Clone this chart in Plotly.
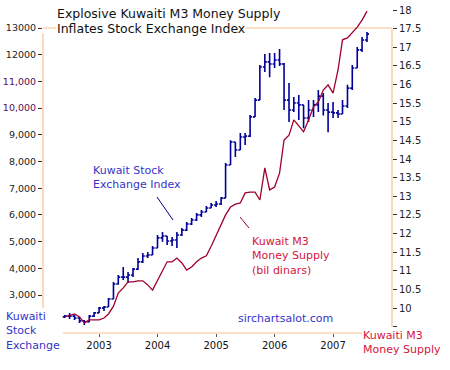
import plotly.graph_objects as go
import pandas as pd

# ---------------- data ----------------
months = pd.date_range("2002-06-01", periods=63, freq="MS")

kse_open = [2180, 2210, 2210, 2140, 2030, 1990, 2210, 2330, 2510, 2550,
            2850, 3410, 3670, 3670, 3750, 3970, 4240, 4460, 4500, 4760,
            5140, 5210, 5020, 5060, 5250, 5430, 5660, 5810, 6000, 6110,
            6260, 6370, 6410, 6630, 7870, 8730, 8430, 8920, 8950, 9670,
            10300, 11540, 11730, 11650, 11800, 11650, 10300, 9930, 10190, 10120,
            9630, 9930, 10120, 10450, 9930, 9850, 9820, 9780, 10080, 10750,
            11500, 12180, 12550]
kse_high = [2250, 2330, 2250, 2180, 2060, 2250, 2360, 2550, 2590, 2890,
            3490, 3750, 4050, 3860, 4010, 4390, 4570, 4610, 4840, 5250,
            5360, 5210, 5170, 5360, 5510, 5730, 5880, 6070, 6180, 6330,
            6450, 6520, 6670, 7940, 8800, 8730, 9070, 9070, 9740, 10380,
            11610, 12030, 12060, 12060, 12210, 11690, 10940, 10420, 10490, 10120,
            10300, 10300, 10680, 10570, 10190, 10230, 9930, 10300, 10870, 11610,
            12290, 12660, 12850]
kse_low = [2140, 2100, 2060, 1950, 1880, 1990, 2180, 2330, 2400, 2550,
           2850, 3380, 3560, 3450, 3670, 3940, 4200, 4390, 4500, 4760,
           4990, 4870, 4840, 4760, 5210, 5400, 5620, 5770, 5920, 6110,
           6260, 6300, 6370, 6630, 7870, 8170, 8430, 8620, 8920, 9670,
           10300, 11350, 11160, 11500, 11580, 9930, 9480, 9850, 9550, 9250,
           9480, 9670, 9850, 9720, 9100, 9630, 9630, 9780, 10000, 10680,
           11500, 12100, 12480]
kse_close = [2210, 2210, 2140, 2030, 1990, 2210, 2330, 2510, 2550, 2850,
             3410, 3670, 3670, 3750, 3970, 4240, 4460, 4500, 4760, 5140,
             5210, 5020, 5060, 5250, 5430, 5660, 5810, 6000, 6110, 6260,
             6370, 6410, 6630, 7870, 8730, 8430, 8920, 8950, 9670, 10300,
             11540, 11730, 11650, 11800, 11650, 10300, 9930, 10190, 10120, 9630,
             9930, 10120, 10450, 9930, 9850, 9820, 9780, 10080, 10750, 11500,
             12180, 12550, 12770]

m3_supply = [9.76, 9.79, 9.84, 9.76, 9.60, 9.68, 9.68, 9.68, 9.73, 9.84,
             10.05, 10.40, 10.54, 10.70, 10.70, 10.73, 10.73, 10.62, 10.48, 10.73,
             11.02, 11.24, 11.24, 11.34, 11.21, 11.02, 11.10, 11.24, 11.34, 11.40,
             11.66, 11.96, 12.23, 12.50, 12.71, 12.79, 12.82, 13.09, 13.11, 13.11,
             12.90, 13.76, 13.17, 13.25, 13.62, 14.51, 14.64, 15.05, 14.89, 14.73,
             15.05, 15.40, 15.53, 15.85, 15.99, 15.77, 16.39, 17.20, 17.25, 17.38,
             17.54, 17.73, 17.97]

left_tick_vals = [3000, 4000, 5000, 6000, 7000, 8000, 9000, 10000, 11000, 12000, 13000]
left_tick_text = ["3,000", "4,000", "5,000", "6,000", "7,000", "8,000", "9,000",
                  "<span style='color:#5a0a5a'>10,000</span>",
                  "<span style='color:#5a0a5a'>11,000</span>", "12000", "13000"]
right_tick_vals = [9.5, 10, 10.5, 11, 11.5, 12, 12.5, 13, 13.5, 14, 14.5, 15, 15.5,
                   16, 16.5, 17, 17.5, 18]
right_tick_text = ["", "10", "10.5", "11", "11.5", "12", "12.5", "13", "13.5", "14",
                   "14.5", "15", "15.5", "16", "16.5", "17", "17.5", "18"]
year_tick_vals = ["2003-01-01", "2004-01-01", "2005-01-01", "2006-01-01", "2007-01-01"]
year_tick_text = ["2003", "2004", "2005", "2006", "2007"]

# ---------------- layout helpers ----------------
W, H = 450, 370
L, R, T, B = 43, 392, 8, 333
FONT = "DejaVu Sans"
ORANGE = "#f9c08e"
BLUE_TXT = "#3535c8"
RED_TXT = "#d41440"


def px(x, y):
    return (x - L) / (R - L), (B - y) / (B - T)


fig = go.Figure()
fig.add_trace(go.Ohlc(
    x=months, open=kse_open, high=kse_high, low=kse_low, close=kse_close,
    increasing=dict(line=dict(color="#000099", width=1.6)),
    decreasing=dict(line=dict(color="#000099", width=1.6)),
    tickwidth=0.45, yaxis="y", showlegend=False, hoverinfo="skip"))
fig.add_trace(go.Scatter(
    x=months, y=m3_supply, mode="lines", yaxis="y2",
    line=dict(color="#a0002c", width=1.3), showlegend=False, hoverinfo="skip"))

shapes = []
shapes.append(dict(type="line", xref="paper", yref="y", x0=0, x1=1, y0=13000, y1=13000,
                   line=dict(color=ORANGE, width=1.2), layer="below"))
shapes.append(dict(type="line", xref="paper", yref="y", x0=0, x1=0, y0=2500, y1=12800,
                   line=dict(color=ORANGE, width=1.2), layer="below"))
shapes.append(dict(type="line", xref="paper", yref="y2", x0=1, x1=1, y0=9.5, y1=17.5,
                   line=dict(color=ORANGE, width=1.2), layer="below"))
bx0, _ = px(63, 0)
bx1, _ = px(362, 0)
shapes.append(dict(type="line", xref="paper", yref="paper", x0=bx0, x1=bx1, y0=0, y1=0,
                   line=dict(color=ORANGE, width=1.2), layer="below"))
a0 = px(157, 197); a1 = px(173, 220)
shapes.append(dict(type="line", xref="paper", yref="paper", x0=a0[0], y0=a0[1], x1=a1[0], y1=a1[1],
                   line=dict(color="#000080", width=1)))
b0 = px(240, 217); b1 = px(249, 228)
shapes.append(dict(type="line", xref="paper", yref="paper", x0=b0[0], y0=b0[1], x1=b1[0], y1=b1[1],
                   line=dict(color="#a0002c", width=1)))

annotations = []


def note(text, x, y, color, size=11, bg=None, anchor="left"):
    xp, yp = px(x, y)
    d = dict(text=text, xref="paper", yref="paper", x=xp, y=yp, xanchor=anchor,
             yanchor="middle", showarrow=False, align="left",
             font=dict(family=FONT, size=size, color=color), borderpad=0)
    if bg:
        d["bgcolor"] = bg
    annotations.append(d)


note("Explosive Kuwaiti M3 Money Supply", 56, 14, "#111111", size=12.5, bg="white")
note("Inflates Stock Exchange Index", 56, 28, "#111111", size=12.5, bg="white")
note("Kuwait Stock<br>Exchange Index", 92, 177, BLUE_TXT)
note("Kuwait M3<br>Money Supply<br>(bil dinars)", 251, 256, RED_TXT)
note("sirchartsalot.com", 285, 318, BLUE_TXT, anchor="center")
note("Kuwaiti<br>Stock<br>Exchange", 5, 331, BLUE_TXT)
note("Kuwaiti M3<br>Money Supply", 362, 342, RED_TXT, bg="white")

fig.update_layout(
    width=W, height=H,
    margin=dict(l=L, r=W - R, t=T, b=H - B, pad=0, autoexpand=False),
    paper_bgcolor="white", plot_bgcolor="white",
    font=dict(family=FONT, size=10, color="#222222"),
    showlegend=False, hovermode=False,
    shapes=shapes, annotations=annotations,
    xaxis=dict(type="date", range=["2002-01-16", "2008-01-04"], showgrid=False,
               zeroline=False, showline=False, rangeslider=dict(visible=False),
               automargin=False,
               tickvals=year_tick_vals, ticktext=year_tick_text,
               ticks="outside", ticklen=3, tickcolor="#555555",
               tickfont=dict(family=FONT, size=10, color="#111111")),
    yaxis=dict(range=[1577, 13749], showgrid=False, zeroline=False, showline=False,
               automargin=False,
               tickvals=left_tick_vals, ticktext=left_tick_text,
               ticks="outside", ticklen=4, tickcolor="#333333",
               tickfont=dict(family=FONT, size=9.5, color="#222222")),
    yaxis2=dict(range=[9.329, 18.054], overlaying="y", side="right", showgrid=False,
                zeroline=False, showline=False, automargin=False,
                tickvals=right_tick_vals, ticktext=right_tick_text,
                ticks="outside", ticklen=4, tickcolor="#333333",
                tickfont=dict(family=FONT, size=10, color="#222222")),
)

fig.write_html("out.html", config={"displayModeBar": False},
               post_script="document.body.style.margin='0';")
